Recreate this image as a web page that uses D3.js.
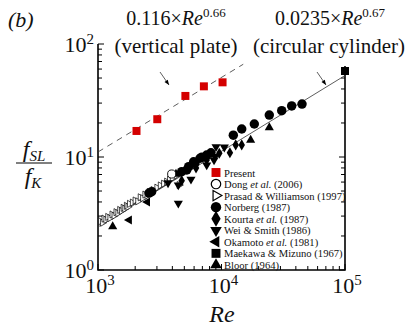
<!DOCTYPE html>
<html><head><meta charset="utf-8">
<script src="https://cdn.jsdelivr.net/npm/d3@7"></script>
<style>html,body{margin:0;padding:0;background:#fff;} svg{display:block;}</style></head>
<body><svg id="c" width="405" height="331"></svg>
<script>
// ---- data (Re, f_SL/f_K) ----
const present  = [[2050,17.0],[3020,21.6],[5100,34.7],[7200,42.2],[10200,45.8]];
const dong     = [[3950,7.07]];
const prasad   = [[1050,2.70],[1090,2.62],[1120,2.85],[1160,2.78],[1200,2.95],[1250,2.88],[1300,3.10],[1350,3.02],
                  [1400,3.25],[1450,3.18],[1500,3.40],[1550,3.33],[1600,3.55],[1650,3.48],[1700,3.70],[1750,3.62],
                  [1800,3.85],[1900,3.95],[2000,4.12],[2100,4.05],[2200,4.40],[2300,4.32],[2400,4.65],[2500,4.55],
                  [2600,4.90],[2800,5.10],[3000,5.35],[3200,5.60],[3400,5.80],[3600,6.05],[3800,6.30],[4000,6.50],
                  [4300,6.85],[4550,5.65]];
const norberg  = [[2590,4.79],[2720,4.93],[4760,7.41],[5230,7.67],[5420,8.21],[5950,9.08],[6100,8.85],[6700,9.75],
                  [6920,9.94],[7590,10.4],[8220,10.9],[12460,15.6],[14580,17.7],[18440,19.6],[24380,23.5],
                  [30730,25.7],[37000,28.3],[44870,29.4]];
const kourta   = [[4760,6.17],[6220,7.99],[7590,9.40],[9600,10.8],[11700,10.9],[13030,12.8],[14580,12.8]];
const weiSmith = [[3690,5.89],[4470,3.89],[4470,5.65],[5660,6.35],[7590,8.49],[8700,9.40],[8860,10.1],
                  [9030,12.3],[10540,12.2]];
const okamoto  = [[1790,2.77],[2510,4.00]];
const maekawa  = [[100000,57.7]];
const bloor    = [[1315,2.42],[4280,7.07],[17220,14.1],[24380,18.2]];
// fits: coefficient, exponent, Re range drawn
const fitPlate = [0.116, 0.66, 1000, 15000];
const fitCyl   = [0.0235, 0.67, 1000, 100000];
const xTicks = [1e3,1e4,1e5];
const yTicks = [1,10,100];
const legendLabels = [
  ["Present"],["Dong ","et al."," (2006)"],["Prasad & Williamson (1997)"],["Norberg (1987)"],
  ["Kourta ","et al."," (1987)"],["Wei & Smith (1986)"],["Okamoto ","et al."," (1981)"],
  ["Maekawa & Mizuno (1967)"],["Bloor (1964)"]];

const FONT = "Liberation Serif";
const svg = d3.select("#c");
const x = d3.scaleLog().domain([1e3,1e5]).range([98,345]);
const y = d3.scaleLog().domain([1,100]).range([270,44]);
const ink = "#000";
const txt = (sel)=>sel.append("text").attr("font-family",FONT).attr("fill","#111");

function minors(a,b){const r=[];for(let d=a; d<b; d*=10){for(let k=1;k<10;k++) r.push(d*k);} r.push(b); return r;}
const g = svg.append("g");
minors(1e3,1e5).forEach(v=>{
  const major = xTicks.includes(v); const L = major?6:4;
  g.append("line").attr("x1",x(v)).attr("x2",x(v)).attr("y1",270).attr("y2",270-L).attr("stroke",ink).attr("stroke-width",1);
});
minors(1,100).forEach(v=>{
  const major = yTicks.includes(v); const L = major?6:4;
  g.append("line").attr("x1",98).attr("x2",98+L).attr("y1",y(v)).attr("y2",y(v)).attr("stroke",ink).attr("stroke-width",1);
  if (y(v)>66) g.append("line").attr("x1",345).attr("x2",345-L).attr("y1",y(v)).attr("y2",y(v)).attr("stroke",ink).attr("stroke-width",1);
});
g.append("path").attr("d",`M98,44V270H345V66`).attr("fill","none").attr("stroke",ink).attr("stroke-width",1.6);

function fitLine(f, dash){
  const [c,e,a,b]=f;
  svg.append("line").attr("x1",x(a)).attr("y1",y(c*Math.pow(a,e))).attr("x2",x(b)).attr("y2",y(c*Math.pow(b,e)))
    .attr("stroke","#333").attr("stroke-width",0.8).attr("stroke-dasharray",dash||null);
}
fitLine(fitPlate,"6,5");
fitLine(fitCyl,null);

const sym = (type,size)=>d3.symbol().type(type).size(size)();
function plot(data,type,size,rot,fill,stroke,sw){
  svg.append("g").selectAll("path").data(data).join("path")
    .attr("d",sym(type,size))
    .attr("transform",d=>`translate(${x(d[0])},${y(d[1])}) rotate(${rot})`)
    .attr("fill",fill).attr("stroke",stroke).attr("stroke-width",sw);
}
plot(prasad,d3.symbolTriangle,22,90,"#fff","#000",0.7);
plot(okamoto,d3.symbolTriangle,36,-90,"#000","none",0);
plot(bloor,d3.symbolTriangle,36,0,"#000","none",0);
plot(weiSmith,d3.symbolTriangle,36,180,"#000","none",0);
plot(kourta,d3.symbolDiamond,36,0,"#000","none",0);
plot(norberg,d3.symbolCircle,70,0,"#000","none",0);
plot(dong,d3.symbolCircle,52,0,"#fff","#000",0.9);
plot(present,d3.symbolSquare,64,0,"#d40000","none",0);

txt(svg).attr("x",8).attr("y",27).attr("font-size",22).attr("font-style","italic").text("(b)");
function fitText(cx,coef,exp){
  const t=txt(svg).attr("x",cx).attr("y",25).attr("text-anchor","middle").attr("font-size",20);
  t.append("tspan").text(coef+"×");
  t.append("tspan").attr("font-style","italic").text("Re");
  t.append("tspan").attr("font-size",13).attr("dy",-8).text(exp);
}
fitText(176,"0.116","0.66");
fitText(330,"0.0235","0.67");
txt(svg).attr("x",176).attr("y",53).attr("text-anchor","middle").attr("font-size",21).text("(vertical plate)");
txt(svg).attr("x",329).attr("y",53).attr("text-anchor","middle").attr("font-size",21).text("(circular cylinder)");
plot(maekawa,d3.symbolSquare,64,0,"#000","none",0);

function arrow(x1,y1,x2,y2){
  svg.append("line").attr("x1",x1).attr("y1",y1).attr("x2",x2).attr("y2",y2).attr("stroke","#333").attr("stroke-width",0.8);
  const a=Math.atan2(y2-y1,x2-x1), L=5, w=2;
  const p=[[x2,y2],[x2-L*Math.cos(a)+w*Math.sin(a),y2-L*Math.sin(a)-w*Math.cos(a)],[x2-L*Math.cos(a)-w*Math.sin(a),y2-L*Math.sin(a)+w*Math.cos(a)]];
  svg.append("path").attr("d","M"+p.join("L")+"Z").attr("fill","#000");
}
arrow(160,72,169,85);
arrow(317,72,326,85);

function pow10(ax,ay,e,anchor){
  const t=txt(svg).attr("x",ax).attr("y",ay).attr("text-anchor",anchor).attr("font-size",22);
  t.append("tspan").text("10");
  t.append("tspan").attr("font-size",15).attr("dy",-8).text(e);
}
xTicks.forEach(v=>pow10(x(v)+2,293,String(Math.round(Math.log10(v))),"middle"));
yTicks.forEach(v=>pow10(94,y(v)+8,String(Math.round(Math.log10(v))),"end"));

txt(svg).attr("x",222).attr("y",322).attr("text-anchor","middle").attr("font-size",24).attr("font-style","italic").text("Re");
const n=txt(svg).attr("x",34).attr("y",157).attr("text-anchor","middle").attr("font-size",24).attr("font-style","italic");
n.append("tspan").text("f");
n.append("tspan").attr("font-size",15).attr("dy",4).text("SL");
svg.append("line").attr("x1",16).attr("x2",52).attr("y1",163).attr("y2",163).attr("stroke","#000").attr("stroke-width",1);
const dd=txt(svg).attr("x",33).attr("y",184).attr("text-anchor","middle").attr("font-size",24).attr("font-style","italic");
dd.append("tspan").text("f");
dd.append("tspan").attr("font-size",15).attr("dy",4).text("K");

const lg=svg.append("g");
const legSyms=[[d3.symbolSquare,80,0,"#d40000","none",0],[d3.symbolCircle,70,0,"#fff","#000",1.2],
  [d3.symbolTriangle,45,90,"#fff","#000",1.2],[d3.symbolCircle,85,0,"#000","none",0],
  [d3.symbolDiamond,75,0,"#000","none",0],[d3.symbolTriangle,58,180,"#000","none",0],
  [d3.symbolTriangle,58,-90,"#000","none",0],[d3.symbolSquare,80,0,"#000","none",0],
  [d3.symbolTriangle,58,0,"#000","none",0]];
legendLabels.forEach((lab,i)=>{
  const yy=172.5+i*11.55;
  const s=legSyms[i];
  lg.append("path").attr("d",sym(s[0],s[1])).attr("transform",`translate(216,${yy}) rotate(${s[2]})`)
    .attr("fill",s[3]).attr("stroke",s[4]).attr("stroke-width",s[5]);
  const t=txt(lg).attr("x",224).attr("y",yy+4).attr("font-size",10.6);
  lab.forEach((p,j)=>t.append("tspan").attr("font-style",j===1?"italic":null).text(p));
});
</script></body></html>
